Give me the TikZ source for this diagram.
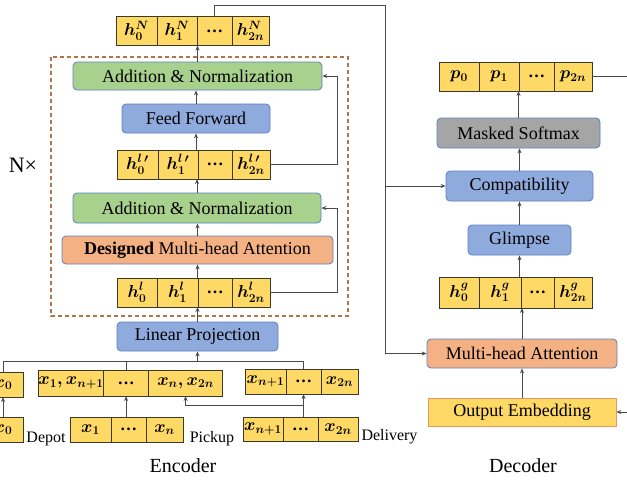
\documentclass[tikz,border=0pt]{standalone}
\usepackage{amsmath}
\usepackage{amssymb}
\usepackage{fontspec}
\setmainfont{Liberation Serif}
\usetikzlibrary{arrows.meta}
\usetikzlibrary{calc,positioning}

\definecolor{cellyellow}{HTML}{FFD966}
\definecolor{celledge}{HTML}{3A3A2A}
\definecolor{boxblue}{HTML}{8FAADC}
\definecolor{boxgreen}{HTML}{A9D18E}
\definecolor{boxorange}{HTML}{F4B183}
\definecolor{boxgray}{HTML}{A5A5A5}
\definecolor{boxedge}{HTML}{5B7FC4}
\definecolor{embedge}{HTML}{E9975A}
\definecolor{loopbrown}{HTML}{B5734A}
\definecolor{wire}{HTML}{4A4A4A}

\begin{document}
\begin{tikzpicture}[x=1pt, y=-1pt, >={Stealth[length=5pt,width=4pt]},
 cell/.style={draw=celledge, fill=cellyellow, line width=0.8pt, inner sep=0pt,
   outer sep=0pt, minimum height=29pt, font=\fontsize{17}{20}\selectfont},
 blockbox/.style={draw=boxedge, rounded corners=4pt, line width=0.8pt, inner sep=0pt,
   font=\fontsize{18}{21}\selectfont},
 plain label/.style={font=\fontsize{16}{19}\selectfont, anchor=base},
 wires/.style={draw=wire, line width=0.8pt}]
    % fixes the page to the reference frame
    \useasboundingbox (0,0) rectangle (627,480);

    % the repeated block, N times
    \draw[loopbrown, line width=1.3pt, dash pattern=on 4pt off 3pt] (51,57) rectangle (348,316);
    \node[font=\fontsize{22}{26}\selectfont] (nx) at (23,165) {N×};

    % Encoder: output row
    \node[cell, minimum width=41pt] (hN0) at (136.5,31) {$\boldsymbol{h_0^N}$};
    \node[cell, minimum width=40pt, right=0pt of hN0] (hN1) {$\boldsymbol{h_1^N}$};
    \node[cell, minimum width=35pt, right=0pt of hN1] (hNd) {\textbf{…}};
    \node[cell, minimum width=37pt, right=0pt of hNd] (hN2n) {$\boldsymbol{h_{2n}^N}$};

    \node[blockbox, fill=boxgreen, minimum width=249pt, minimum height=28pt] (an1) at (197.5,76) {Addition \& Normalization};
    \node[blockbox, fill=boxblue, minimum width=148pt, minimum height=29pt] (ff) at (196,118.5) {Feed Forward};

    % intermediate row
    \node[cell, minimum width=41pt] (hlp0) at (137.5,164.5) {$\boldsymbol{h_0^{l\,\prime}}$};
    \node[cell, minimum width=40pt, right=0pt of hlp0] (hlp1) {$\boldsymbol{h_1^{l\,\prime}}$};
    \node[cell, minimum width=34pt, right=0pt of hlp1] (hlpd) {\textbf{…}};
    \node[cell, minimum width=38pt, right=0pt of hlpd] (hlp2n) {$\boldsymbol{h_{2n}^{l\,\prime}}$};

    \node[blockbox, fill=boxgreen, minimum width=248pt, minimum height=30pt] (an2) at (197,208) {Addition \& Normalization};
    \node[blockbox, fill=boxorange, minimum width=271pt, minimum height=28pt] (mha) at (197.5,250) {\textbf{Designed} Multi-head Attention};

    % input row of the block
    \node[cell, minimum width=40pt] (hl0) at (137,292.5) {$\boldsymbol{h_0^l}$};
    \node[cell, minimum width=41pt, right=0pt of hl0] (hl1) {$\boldsymbol{h_1^l}$};
    \node[cell, minimum width=34pt, right=0pt of hl1] (hld) {\textbf{…}};
    \node[cell, minimum width=38pt, right=0pt of hld] (hl2n) {$\boldsymbol{h_{2n}^l}$};

    \node[blockbox, fill=boxblue, minimum width=161pt, minimum height=29pt] (lp) at (197.5,336.5) {Linear Projection};

    % grouped inputs
    \node[cell, minimum width=40pt, minimum height=25pt] (x0t) at (3,384.5) {$\boldsymbol{x_0}$};
    \node[cell, minimum width=64pt, minimum height=26pt] (x10) at (71,383) {$\boldsymbol{x_1, x_{n+1}}$};
    \node[cell, minimum width=45pt, minimum height=26pt, right=0pt of x10] (x1d) {\textbf{…}};
    \node[cell, minimum width=74pt, minimum height=26pt, right=0pt of x1d] (x1n) {$\boldsymbol{x_n, x_{2n}}$};
    \node[cell, minimum width=41pt, minimum height=25pt] (xn10) at (265.5,381.5) {$\boldsymbol{x_{n+1}}$};
    \node[cell, minimum width=35pt, minimum height=25pt, right=0pt of xn10] (xn1d) {\textbf{…}};
    \node[cell, minimum width=37pt, minimum height=25pt, right=0pt of xn1d] (xn1n) {$\boldsymbol{x_{2n}}$};

    % raw inputs
    \node[cell, minimum width=40pt, minimum height=25pt] (x0b) at (3,429.5) {$\boldsymbol{x_0}$};
    \node[plain label] (depot) at (46,442) {Depot};
    \node[cell, minimum width=41pt, minimum height=25pt] (p1) at (90.5,429.5) {$\boldsymbol{x_1}$};
    \node[cell, minimum width=35pt, minimum height=25pt, right=0pt of p1] (pd) {\textbf{…}};
    \node[cell, minimum width=37pt, minimum height=25pt, right=0pt of pd] (pn) {$\boldsymbol{x_n}$};
    \node[plain label] (pickup) at (212,442) {Pickup};
    \node[cell, minimum width=40pt, minimum height=24pt] (d1) at (263,429) {$\boldsymbol{x_{n+1}}$};
    \node[cell, minimum width=35pt, minimum height=24pt, right=0pt of d1] (dd) {\textbf{…}};
    \node[cell, minimum width=40pt, minimum height=24pt, right=0pt of dd] (dn) {$\boldsymbol{x_{2n}}$};
    \node[plain label] (delivery) at (389.5,440) {Delivery};

    \node[font=\fontsize{20}{24}\selectfont, anchor=base] (enc) at (183,472) {Encoder};

    % Decoder
    \node[cell, minimum width=40pt] (p0) at (459,76.5) {$\boldsymbol{p_0}$};
    \node[cell, minimum width=40pt, right=0pt of p0] (pp1) {$\boldsymbol{p_1}$};
    \node[cell, minimum width=35pt, right=0pt of pp1] (ppd) {\textbf{…}};
    \node[cell, minimum width=38pt, right=0pt of ppd] (p2n) {$\boldsymbol{p_{2n}}$};

    \node[blockbox, fill=boxgray, minimum width=163pt, minimum height=30pt] (ms) at (518.5,133) {Masked Softmax};
    \node[blockbox, fill=boxblue, minimum width=147pt, minimum height=30pt] (comp) at (519.5,186) {Compatibility};
    \node[blockbox, fill=boxblue, minimum width=103pt, minimum height=30pt] (glimpse) at (519.5,240) {Glimpse};

    \node[cell, minimum width=40pt, minimum height=31pt] (hg0) at (459,292.5) {$\boldsymbol{h_0^g}$};
    \node[cell, minimum width=42pt, minimum height=31pt, right=0pt of hg0] (hg1) {$\boldsymbol{h_1^g}$};
    \node[cell, minimum width=33pt, minimum height=31pt, right=0pt of hg1] (hgd) {\textbf{…}};
    \node[cell, minimum width=38pt, minimum height=31pt, right=0pt of hgd] (hg2n) {$\boldsymbol{h_{2n}^g}$};

    \node[blockbox, fill=boxorange, minimum width=190pt, minimum height=29pt] (dmha) at (522,353.5) {Multi-head Attention};
    \node[draw=embedge, fill=cellyellow, line width=0.8pt, inner sep=0pt, minimum width=188pt, minimum height=28pt,
      font=\fontsize{18}{21}\selectfont] (oe) at (522,412) {Output Embedding};

    \node[font=\fontsize{20}{24}\selectfont, anchor=base] (dec) at (523,472) {Decoder};

    % encoder connectors
    \draw[wires,->] (an1.north) -- (an1.north |- hN0.south);
    \draw[wires,->] (ff.north) -- (ff.north |- an1.south);
    \draw[wires,->] (ff.south |- hlp1.north) -- (ff.south);
    \draw[wires,->] (an2.north) -- (an2.north |- hlp0.south);
    \draw[wires,->] (mha.north) -- (mha.north |- an2.south);
    \draw[wires,->] (mha.south |- hl1.north) -- (mha.south);
    \draw[wires,->] (lp.north) -- (lp.north |- hl0.south);
    % residual paths
    \draw[wires,->] (hlp2n.east) -- ++(67,0) |- (an1.east);
    \draw[wires,->] (hl2n.east) -- ++(67,0) |- (an2.east);

    % input bus
    \coordinate (bus) at (0,361);
    \draw[wires] (x0t.north) |- (xn1d.north |- bus) -- (xn1d.north);
    \draw[wires] (x1d.north) -- (x1d.north |- bus);
    \draw[wires,->] (lp.south |- bus) -- (lp.south);
    \draw[wires,->] (x0b.north) -- (x0t.south);
    \draw[wires,->] (x1d.south |- pd.north) -- (x1d.south);
    \draw[wires,->] (xn1d.south |- dd.north) -- (xn1d.south);
    \draw[wires,->] ($(xn1d.south)!0.5!(xn1d.south |- dd.north)$) -| (x1n.south);

    % decoder connectors
    \draw[wires,->] (oe.north) -- (dmha.south);
    \draw[wires,->] (dmha.north) -- (dmha.north |- hg0.south);
    \draw[wires,->] (glimpse.south |- hg0.north) -- (glimpse.south);
    \draw[wires,->] (glimpse.north) -- (comp.south);
    \draw[wires,->] (comp.north) -- (comp.north |- ms.south);
    \draw[wires,->] (ms.north) -- (ms.north |- p0.south);
    \coordinate (pout) at (640,76.5);
    \draw[wires] (p2n.east) -- (pout);
    \coordinate (oin) at (640,412);
    \draw[wires,->] (oin) -- (oe.east);

    % encoder output to decoder
    \coordinate (turn) at (385,5);
    \draw[wires,->] (hNd.north) |- (turn) |- (dmha.west);
    \draw[wires,->] (turn |- comp.west) -- (comp.west);
\end{tikzpicture}
\end{document}
